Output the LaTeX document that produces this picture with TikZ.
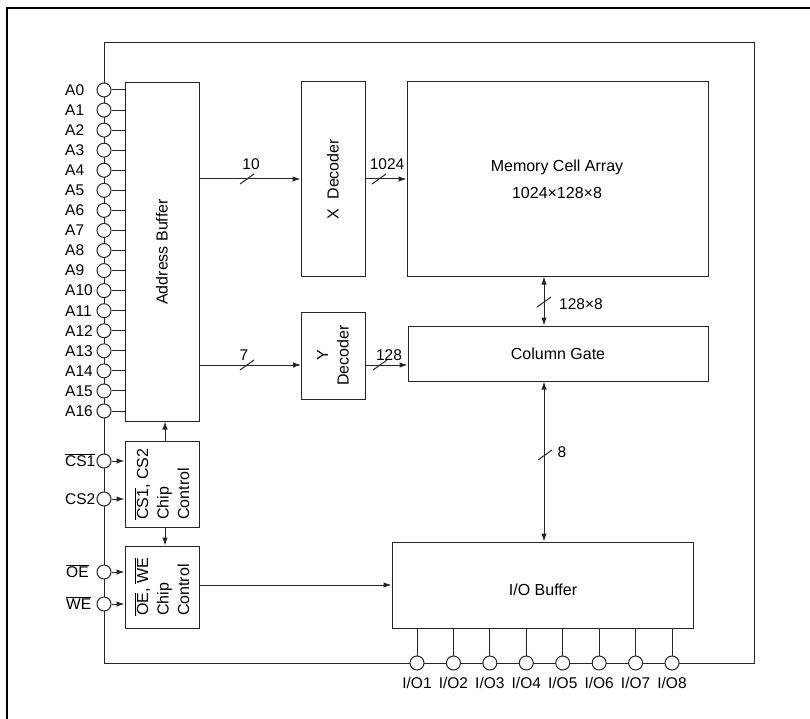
\documentclass[tikz,border=0pt]{standalone}
\usepackage{fontspec}
\setmainfont{Liberation Sans}
\usetikzlibrary{arrows.meta,calc}
\newcommand{\ovl}[1]{$\overline{\mbox{#1}}$}
\begin{document}
\begin{tikzpicture}[x=1pt,y=-1pt, font=\fontsize{15.5}{20}\selectfont,
  blk/.style={draw=black!85, line width=1pt, fill=white, inner sep=0pt},
  btext/.style={font=\fontsize{16}{20.5}\selectfont},
  ln/.style={draw=black!85, line width=1pt},
  arr/.style={ln, -{Latex[length=8pt,width=5.5pt]}},
  darr/.style={ln, {Latex[length=8pt,width=5.5pt]}-{Latex[length=8pt,width=5.5pt]}},
  pinc/.style={circle, draw=black!85, line width=1pt, fill=white, minimum size=14pt, inner sep=0pt},
  plabel/.style={anchor=west, inner sep=0pt},
  buslabel/.style={inner sep=0pt},
  bus/.pic={\draw[black!85, line width=1pt] (-7,5) -- (7,-5);}
]
\useasboundingbox (0,0) rectangle (810,719);
% outer border
\draw[line width=1.5pt] (810,8) -- (7,8) -- (7,719);
% chip frame
\draw[ln] (104,43) rectangle (754,663);

% blocks
\node[blk, minimum width=74pt, minimum height=338pt] (ab) at (162,252) {};
\node[btext, rotate=90] at (ab.center) {Address Buffer};
\node[blk, minimum width=64pt, minimum height=194pt] (xd) at (333,179) {};
\node[btext, rotate=90] at (xd.center) {X\ \ Decoder};
\node[blk, minimum width=301pt, minimum height=194pt] (mem) at (557.5,179) {};
\node[btext] (memt1) at (557,167) {Memory Cell Array};
\node[btext] (memt2) at (557,193) {1024×128×8};
\node[blk, minimum width=64pt, minimum height=87pt] (yd) at (333,355.5) {};
\node[btext, rotate=90, align=center] at (yd.center) {Y\\Decoder};
\node[blk, btext, minimum width=300pt, minimum height=55pt] (cg) at (558,353.5) {Column Gate};
\node[blk, minimum width=301pt, minimum height=86pt] (io) at (542.5,585) {};
\node[btext] at (543,590) {I/O Buffer};
\node[blk, minimum width=74pt, minimum height=86pt] (cs) at (162,484) {};
\node[btext, rotate=90, align=left] at (cs.center) {\ovl{CS1}, CS2\\Chip\\Control};
\node[blk, minimum width=74pt, minimum height=82pt] (oe) at (162,587) {};
\node[btext, rotate=90, align=left] at (oe.center) {\ovl{OE}, \ovl{WE}\\Chip\\Control};

% address pins
\foreach \i in {0,...,16} {
  \pgfmathsetmacro\yy{90+20.0625*\i}
  \node[pinc] (a\i) at (104,\yy) {};
  \draw[ln] (a\i.east) -- (ab.west |- a\i);
  \node[plabel] (la\i) at (65,\yy) {A\i};
}
% control pins
\node[pinc] (pcs1) at (104,461) {};
\node[plabel] (lcs1) at (65,460) {\ovl{CS1}};
\draw[arr] (pcs1.east) -- (cs.west |- pcs1);
\node[pinc] (pcs2) at (104,499) {};
\node[plabel] (lcs2) at (65,499) {CS2};
\draw[arr] (pcs2.east) -- (cs.west |- pcs2);
\node[pinc] (poe) at (104,572) {};
\node[plabel] (loe) at (66,571) {\ovl{OE}};
\draw[arr] (poe.east) -- (oe.west |- poe);
\node[pinc] (pwe) at (104,604) {};
\node[plabel] (lwe) at (66,603) {\ovl{WE}};
\draw[arr] (pwe.east) -- (oe.west |- pwe);

% I/O pins
\foreach \i in {1,...,8} {
  \pgfmathsetmacro\xx{417+36.43*(\i-1)}
  \draw[ln] (\xx,628) -- (\xx,656);
  \node[pinc] (io\i) at (\xx,663) {};
  \node[anchor=north, inner sep=0pt] (lio\i) at (\xx,677) {I/O\i};
}

% connectors
\coordinate (yin) at (301,365);
\coordinate (vx) at (544,0);
\coordinate (cx) at (165,0);
\draw[arr] (ab.east |- xd.west) -- (xd.west);
\draw[arr] (xd.east) -- (mem.west |- xd.east);
\draw[arr] (ab.east |- yin) -- (yin);
\draw[arr] (yd.east |- yin) -- (cg.west |- yin);
\draw[darr] (mem.south -| vx) -- (cg.north -| vx);
\draw[darr] (cg.south -| vx) -- (io.north -| vx);
\draw[arr] (cs.north -| cx) -- (ab.south -| cx);
\draw[arr] (cs.south -| cx) -- (oe.north -| cx);
\draw[arr] (oe.east |- io.west) -- (io.west);

% bus marks and widths
\pic at (247,179) {bus};
\node[buslabel] (b10) at (251,164) {10};
\pic at (379,179) {bus};
\node[buslabel] (b1024) at (387,164) {1024};
\pic at (247,365) {bus};
\node[buslabel] (b7) at (244,355) {7};
\pic at (380,365) {bus};
\node[buslabel] (b128) at (389,355) {128};
\pic at (544,302) {bus};
\node[buslabel] (b1288) at (581,304) {128×8};
\pic at (545,455) {bus};
\node[buslabel] (b8) at (562,452) {8};
\end{tikzpicture}
\end{document}
